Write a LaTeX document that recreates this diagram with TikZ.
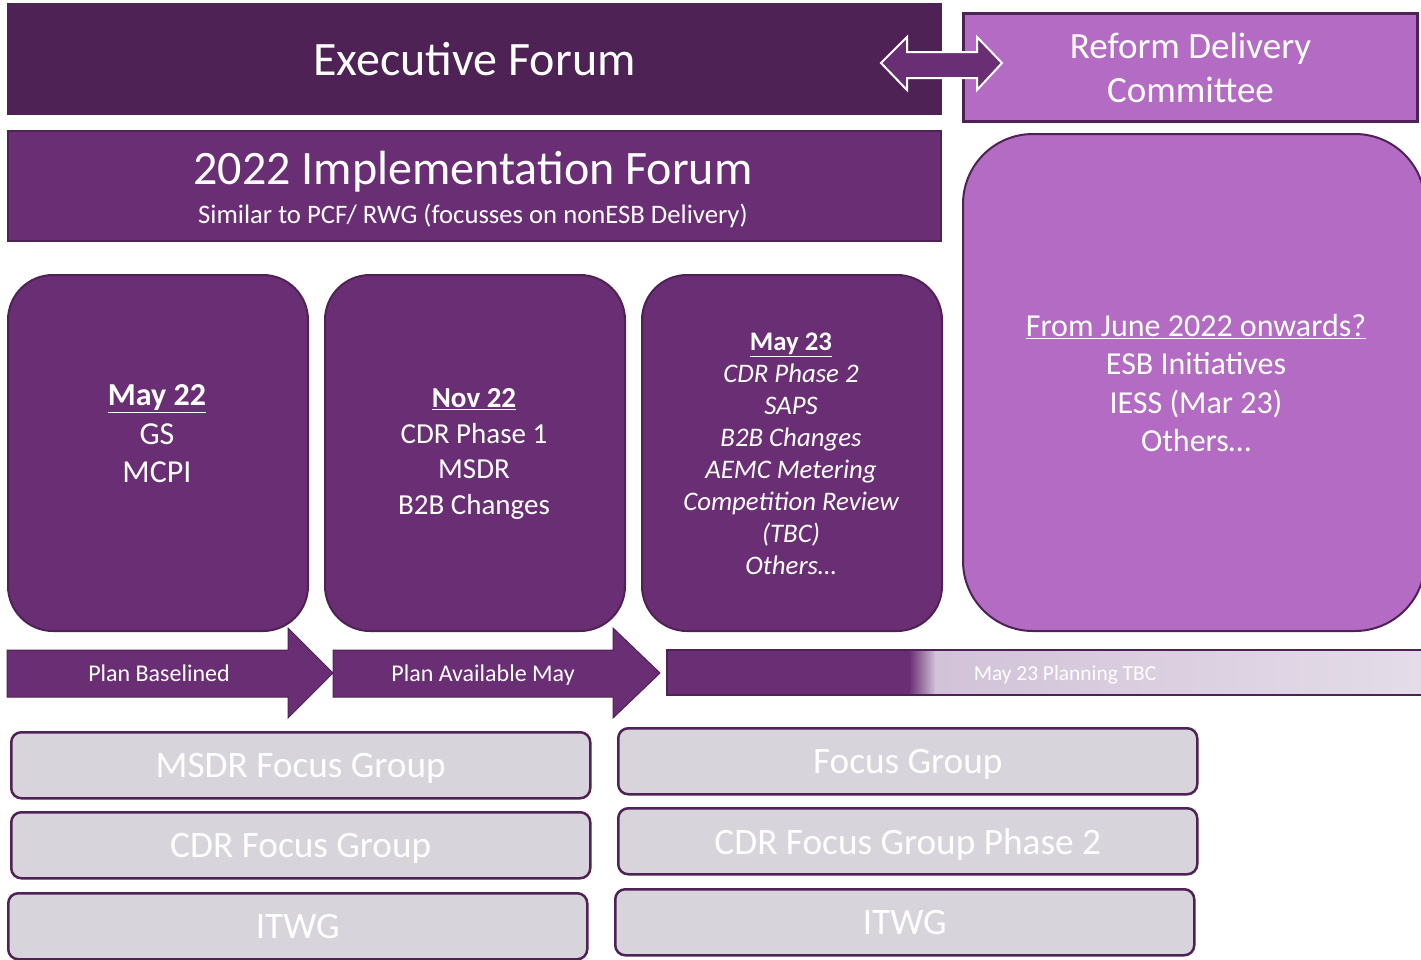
\documentclass[tikz,border=0pt]{standalone}
\usepackage{fontspec}
\setmainfont{Carlito}
\usetikzlibrary{positioning}

\definecolor{darkplum}{HTML}{4E2254}
\definecolor{plum}{HTML}{6A2E74}
\definecolor{lilac}{HTML}{B36BC3}
\definecolor{fog}{HTML}{D7D4DC}
\definecolor{haze}{HTML}{D2C3D8}
\definecolor{mist}{HTML}{E4DCE8}

\newcommand{\fs}[1]{\fontsize{#1}{1.2\dimexpr#1pt\relax}\selectfont}

\tikzset{
  banner/.style={draw=darkplum, line width=2pt, text=white, align=center, anchor=north west, inner sep=0pt},
  phase/.style={draw=darkplum, line width=2pt, fill=plum, rounded corners=45pt, anchor=north west,
    minimum width=300pt, minimum height=356pt},
  phasetext/.style={text=white, align=center},
  group/.style={draw=darkplum, line width=2.5pt, fill=fog, rounded corners=10pt, text=white,
    anchor=north west, minimum width=579pt, minimum height=66pt, inner sep=0pt, font=\fs{37.3}},
  stage/.style={fill=plum, draw=darkplum, line width=1pt},
  stagetext/.style={text=white, font=\fs{24}, text height=0.7em, text depth=0.2em},
}

\begin{document}
\begin{tikzpicture}[x=1pt, y=-1pt]
  \useasboundingbox (0,0) rectangle (1421,959);
  \clip (0,0) rectangle (1421,959);

  % forums
  \node[banner, fill=darkplum, minimum width=933pt, minimum height=110pt, font=\fs{48}] (exec) at (7,3) {Executive Forum};
  \node[banner, fill=lilac, line width=3pt, minimum width=454pt, minimum height=108pt,
    font=\fontsize{37}{44}\selectfont] (rdc) at (962,12) {Reform Delivery\\Committee};
  \draw[fill=plum, draw=white, line width=2pt] (881,63) -- (907,37) -- (907,52) -- (977,52) -- (977,37)
    -- (1002,63) -- (977,90) -- (977,78) -- (907,78) -- (907,90) -- cycle;

  \node[banner, fill=plum, minimum width=933pt, minimum height=110pt] (impl) at (7,130) {};
  \node[text=white, font=\fs{48}] (impltitle) at (473,172) {2022 Implementation Forum};
  \node[text=white, font=\fs{26.7}] (implsub) at (473,216) {Similar to PCF/ RWG (focusses on nonESB Delivery)};

  % phases
  \node[phase] (may22) at (7,274) {};
  \node[phase] (nov22) at (324,274) {};
  \node[phase] (may23) at (641,274) {};
  \node[phase, fill=lilac, rounded corners=70pt, minimum width=462pt, minimum height=497pt] (june22) at (962,133) {};

  \node[phasetext, font=\fontsize{32}{38.5}\selectfont] at (157,434)
    {\underline{\textbf{May 22}}\\GS\\MCPI};
  \node[phasetext, font=\fontsize{29}{35.5}\selectfont] at (474,454)
    {\underline{\textbf{Nov 22}}\\CDR Phase 1\\MSDR\\B2B Changes};
  \node[phasetext, font=\fontsize{26.8}{32}\selectfont] at (791,454)
    {\underline{\textbf{May 23}}\\\itshape CDR Phase 2\\\itshape SAPS\\\itshape B2B Changes\\\itshape AEMC Metering\\
     \itshape Competition Review\\\itshape (TBC)\\\itshape Others…};
  \node[phasetext, font=\fontsize{32}{38.5}\selectfont] at (1196,383)
    {\underline{From June 2022 onwards?}\\ESB Initiatives\\IESS (Mar 23)\\Others…};

  % plan arrows
  \draw[stage] (7,650) -- (288,650) -- (288,628) -- (333,673) -- (288,718) -- (288,697) -- (7,697) -- cycle;
  \draw[stage] (333,650) -- (613,650) -- (613,628) -- (660,673) -- (613,718) -- (613,697) -- (333,697) -- cycle;
  \node[stagetext] (baselined) at (159,679) {Plan Baselined};
  \node[stagetext] (available) at (483,679) {Plan Available May};

  \fill[plum] (667,650) rectangle (910,695);
  \shade[left color=plum, right color=haze] (909,650) rectangle (936,695);
  \shade[left color=haze, right color=mist] (935,650) rectangle (1421,695);
  \draw[darkplum, line width=1.5pt] (667,650) rectangle (1425,695);
  \node[stagetext, font=\fs{21.4}] (planning) at (1065,678) {May 23 Planning TBC};

  % focus groups
  \foreach \x/\y/\name/\label in {10/731/msdr/MSDR Focus Group, 10/811/cdr/CDR Focus Group, 7/892/itwg/ITWG,
      617/727/focus/Focus Group, 617/807/cdrtwo/CDR Focus Group Phase 2, 614/888/itwgtwo/ITWG} {
    \node[group, text depth=-3pt] (\name) at (\x,\y) {\label};
  }
\end{tikzpicture}
\end{document}
